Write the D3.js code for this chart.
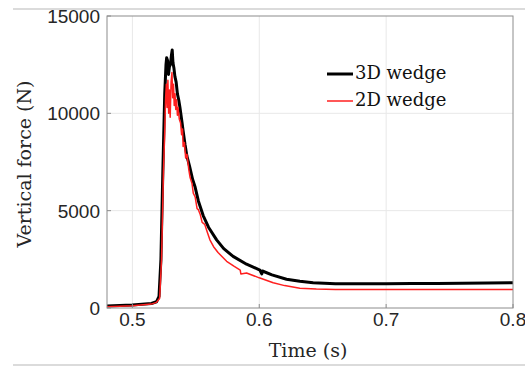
<!DOCTYPE html>
<html>
<head>
<meta charset="utf-8">
<script src="https://cdn.jsdelivr.net/npm/d3@7"></script>
<style>
    html, body { margin: 0; padding: 0; background: #fff; }
    svg { display: block; }
    .tick-label { font-family: "Liberation Sans", Arial, sans-serif; font-size: 19px; fill: #262626; }
    .axis-title { font-family: "DejaVu Serif", serif; font-size: 19px; fill: #262626; }
    .legend-text { font-family: "DejaVu Serif", serif; font-size: 18px; fill: #111; }
</style>
</head>
<body>
<svg id="chart" width="525" height="368"></svg>
<script>
// Tick values
const xTicks = [0.5, 0.6, 0.7, 0.8];
const yTicks = [0, 5000, 10000, 15000];

// 3D wedge (black) - time in s, force in N
const time3D = [
    0.48, 0.50, 0.515, 0.519, 0.521, 0.5225, 0.524, 0.5255, 0.5265, 0.527,
    0.5278, 0.5285, 0.5292, 0.530, 0.5308, 0.5314, 0.532, 0.5328, 0.5335, 0.5345,
    0.5355, 0.5365, 0.5375, 0.539, 0.540, 0.5415, 0.543, 0.545, 0.5475, 0.5495,
    0.552, 0.5558, 0.560, 0.5664, 0.572, 0.5794, 0.59, 0.6005, 0.602, 0.6025,
    0.61, 0.6215, 0.632, 0.6425, 0.66, 0.68, 0.70, 0.72, 0.74, 0.76,
    0.78, 0.80
];
const force3D = [
    100, 150, 230, 320, 600, 2500, 7000, 11000, 12500, 12850,
    12700, 12000, 12400, 12500, 13000, 13250, 12600, 12300, 11900, 11600,
    11000, 10700, 10300, 9600, 9100, 8400, 7800, 7300, 6600, 6200,
    5500, 4750, 4150, 3500, 3050, 2650, 2250, 1950, 1750, 1900,
    1700, 1480, 1370, 1300, 1250, 1240, 1250, 1260, 1260, 1270,
    1290, 1300
];

// 2D wedge (red)
const time2D = [
    0.48, 0.50, 0.515, 0.519, 0.5215, 0.523, 0.5245, 0.5255, 0.5262, 0.5268,
    0.5274, 0.528, 0.5286, 0.5292, 0.5298, 0.5305, 0.5312, 0.5318, 0.5324, 0.533,
    0.5336, 0.5342, 0.5348, 0.5355, 0.536, 0.537, 0.538, 0.5388, 0.5395, 0.540,
    0.541, 0.542, 0.543, 0.5445, 0.5455, 0.547, 0.548, 0.5495, 0.551, 0.552,
    0.5535, 0.555, 0.557, 0.559, 0.5611, 0.564, 0.5675, 0.5743, 0.58, 0.585,
    0.5855, 0.59, 0.60, 0.611, 0.62, 0.632, 0.645, 0.66, 0.70, 0.75,
    0.80
];
const force2D = [
    70, 120, 200, 290, 500, 2500, 7000, 9000, 10800, 11500,
    10300, 11700, 10000, 11200, 9800, 11600, 12100, 10800, 11500, 10400,
    11000, 10200, 10700, 9900, 10300, 9700, 9500, 8900, 9200, 8300,
    8500, 7700, 7900, 7100, 6700, 6400, 5900, 5700, 5100, 5050,
    4800, 4400, 4300, 3900, 3500, 3150, 2850, 2400, 2150, 1950,
    1750, 1800, 1550, 1300, 1150, 1020, 970, 950, 950, 950,
    950
];

const seriesNames = ['3D wedge', '2D wedge'];
const seriesColors = ['#000000', '#ff1f1f'];
const seriesWidths = [3, 1.5];

function drawChart() {
    const svg = d3.select('#chart');
    const margin = { top: 16, left: 107 };
    const width = 406;
    const height = 292;

    // Frame lines of the original screenshot
    svg.append('line').attr('x1', 13).attr('x2', 525).attr('y1', 9).attr('y2', 9)
        .attr('stroke', '#cfcfcf').attr('stroke-width', 1.5);
    svg.append('line').attr('x1', 13).attr('x2', 525).attr('y1', 365).attr('y2', 365)
        .attr('stroke', '#cfcfcf').attr('stroke-width', 1.5);

    const x = d3.scaleLinear().domain([0.48, 0.8]).range([0, width]);
    const y = d3.scaleLinear().domain([0, 15000]).range([height, 0]);

    const g = svg.append('g').attr('transform', `translate(${margin.left},${margin.top})`);

    // Grid
    g.append('g').selectAll('line').data(xTicks.slice(0, -1)).join('line')
        .attr('x1', d => x(d)).attr('x2', d => x(d))
        .attr('y1', 0).attr('y2', height)
        .attr('stroke', '#e8e8e8').attr('stroke-width', 1);
    g.append('g').selectAll('line').data(yTicks.slice(1, -1)).join('line')
        .attr('x1', 0).attr('x2', width)
        .attr('y1', d => y(d)).attr('y2', d => y(d))
        .attr('stroke', '#e8e8e8').attr('stroke-width', 1);

    // Lines (clipped to the axes)
    svg.append('clipPath').attr('id', 'clip').append('rect')
        .attr('width', width).attr('height', height);

    const line = d3.line().x(d => x(d[0])).y(d => y(d[1]));
    const data = [
        d3.zip(time3D, force3D),
        d3.zip(time2D, force2D)
    ];
    // Black first so red overlays it
    const lines = g.append('g').attr('clip-path', 'url(#clip)');
    data.forEach((pts, i) => {
        lines.append('path')
            .attr('d', line(pts))
            .attr('fill', 'none')
            .attr('stroke', seriesColors[i])
            .attr('stroke-width', seriesWidths[i])
            .attr('stroke-linejoin', 'round');
    });

    // Axes box
    g.append('rect').attr('width', width).attr('height', height)
        .attr('fill', 'none').attr('stroke', '#8c8c8c').attr('stroke-width', 1);

    // Tick marks (inward)
    g.append('g').selectAll('line').data(xTicks).join('line')
        .attr('x1', d => x(d)).attr('x2', d => x(d))
        .attr('y1', height).attr('y2', height - 4)
        .attr('stroke', '#8c8c8c');
    g.append('g').selectAll('line').data(yTicks).join('line')
        .attr('x1', 0).attr('x2', 4)
        .attr('y1', d => y(d)).attr('y2', d => y(d))
        .attr('stroke', '#8c8c8c');

    // Tick labels
    g.append('g').selectAll('text').data(xTicks).join('text')
        .attr('class', 'tick-label')
        .attr('x', d => x(d)).attr('y', height + 18)
        .attr('text-anchor', 'middle')
        .text(d => d3.format('.1f')(d));
    g.append('g').selectAll('text').data(yTicks).join('text')
        .attr('class', 'tick-label')
        .attr('x', -7).attr('y', d => y(d) + 7)
        .attr('text-anchor', 'end')
        .text(d => d);

    // Axis titles
    svg.append('text').attr('class', 'axis-title')
        .attr('x', 308).attr('y', 357)
        .attr('text-anchor', 'middle')
        .text('Time (s)');
    svg.append('text').attr('class', 'axis-title')
        .attr('transform', 'translate(31,164) rotate(-90)')
        .attr('text-anchor', 'middle')
        .text('Vertical force (N)');

    // Legend
    const legend = svg.append('g');
    seriesNames.forEach((name, i) => {
        const ly = 74 + i * 27;
        legend.append('line')
            .attr('x1', 327).attr('x2', 353).attr('y1', ly).attr('y2', ly)
            .attr('stroke', seriesColors[i]).attr('stroke-width', seriesWidths[i]);
        legend.append('text').attr('class', 'legend-text')
            .attr('x', 355).attr('y', ly + 5)
            .text(name);
    });
}

drawChart();
</script>
</body>
</html>
